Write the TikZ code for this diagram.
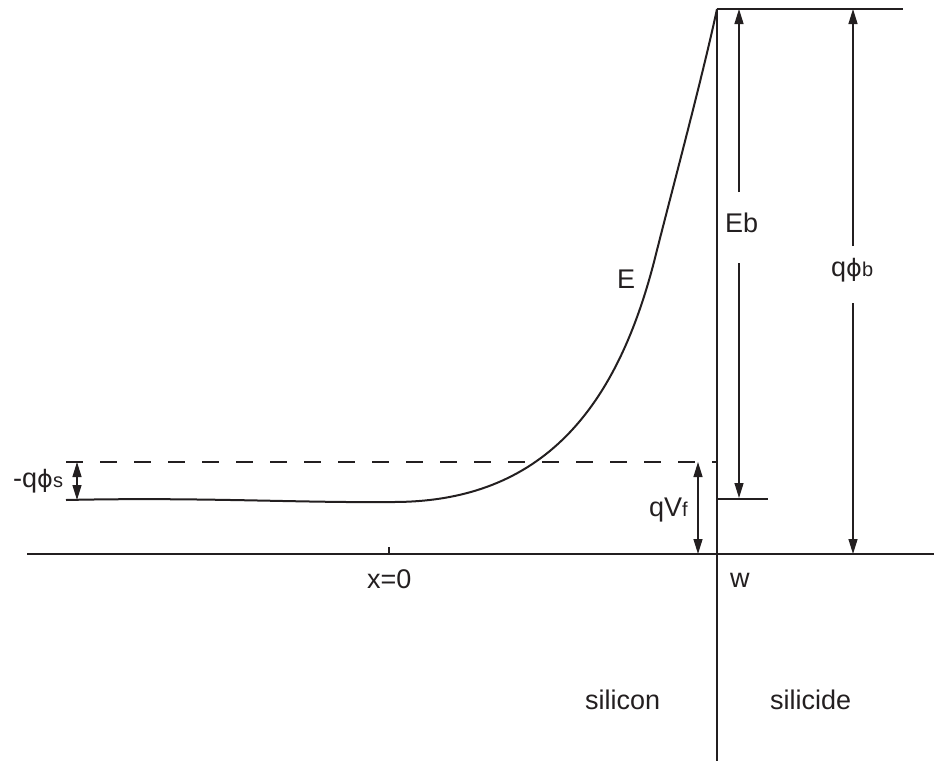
\documentclass[tikz,border=0pt]{standalone}
\usepackage{fontspec}
\setmainfont{Liberation Sans}
\newfontfamily\phifont{DejaVu Sans}
\usetikzlibrary{arrows.meta}
\definecolor{ink}{HTML}{231F20}
\newcommand{\myphi}{{\phifont\fontsize{24}{26}\selectfont ϕ}}
\begin{document}
\begin{tikzpicture}[x=1pt,y=-1pt,
  mainline/.style={draw=ink,line width=2pt},
  dashline/.style={draw=ink,line width=2pt,dash pattern=on 17pt off 17pt},
  arrline/.style={draw=ink,line width=1.3pt},
  tip/.style={-{Triangle[length=15pt,width=9pt]}},
  dtip/.style={{Triangle[length=15pt,width=9pt]}-{Triangle[length=15pt,width=9pt]}},
  lbl/.style={anchor=base west,inner sep=0pt,text=ink,font=\fontsize{27}{30}\selectfont}
]
\useasboundingbox (0,0) rectangle (934,761);
% coordinates
\coordinate (bl) at (27,554);
\coordinate (br) at (934,554);
\coordinate (vt) at (717,9);
\coordinate (vb) at (717,761);
\coordinate (tr) at (903,9);
\coordinate (stepl) at (717,499);
\coordinate (stepr) at (768,499);
\coordinate (dl) at (66,462);
\coordinate (dr) at (717,462);
\coordinate (tickt) at (389,547);
\coordinate (tickb) at (389,554);
\coordinate (c0) at (66,500);
\coordinate (c1) at (393,502);
\coordinate (c2) at (655,258);
% axes
\draw[mainline] (bl) -- (br);
\draw[mainline] (vt) -- (vb);
\draw[mainline] (vt) -- (tr);
\draw[mainline] (stepl) -- (stepr);
\draw[arrline] (tickt) -- (tickb);
\draw[dashline] (dl) -- (dr);
% energy curve
\draw[mainline,line join=round] (c0) .. controls (200,497) and (300,503) .. (c1)
  .. controls (543,502) and (617,408) .. (c2)
  .. controls (670,198) and (702,79) .. (vt);
% Eb arrows
\coordinate (eb1) at (739,192);
\coordinate (eb1t) at (739,9);
\coordinate (eb2) at (739,263);
\coordinate (eb2t) at (739,498);
\draw[arrline,tip] (eb1) -- (eb1t);
\draw[arrline,tip] (eb2) -- (eb2t);
% qphib arrows
\coordinate (pb1) at (853,246);
\coordinate (pb1t) at (853,9);
\coordinate (pb2) at (853,303);
\coordinate (pb2t) at (853,554);
\draw[arrline,tip] (pb1) -- (pb1t);
\draw[arrline,tip] (pb2) -- (pb2t);
% qVf
\coordinate (vf1) at (698,462);
\coordinate (vf2) at (698,554);
\draw[arrline,dtip] (vf1) -- (vf2);
% qphis
\coordinate (ps1) at (77,462);
\coordinate (ps2) at (77,500);
\draw[arrline,dtip] (ps1) -- (ps2);
% labels
\node[lbl] (lE) at (617,288) {E};
\node[lbl] (lEb) at (725,232) {Eb};
\node[lbl] (lpb) at (831,276) {q\myphi{\fontsize{20}{22}\selectfont b}};
\node[lbl] (lps) at (13,487) {-q\myphi{\fontsize{20}{22}\selectfont s}};
\node[lbl] (lvf) at (649,516) {qV{\fontsize{20}{22}\selectfont f}};
\node[lbl] (lx) at (367,588) {x=0};
\node[lbl] (lw) at (730,587) {w};
\node[lbl] (lsi) at (585,709) {silicon};
\node[lbl] (lsd) at (770,709) {silicide};
\end{tikzpicture}
\end{document}
